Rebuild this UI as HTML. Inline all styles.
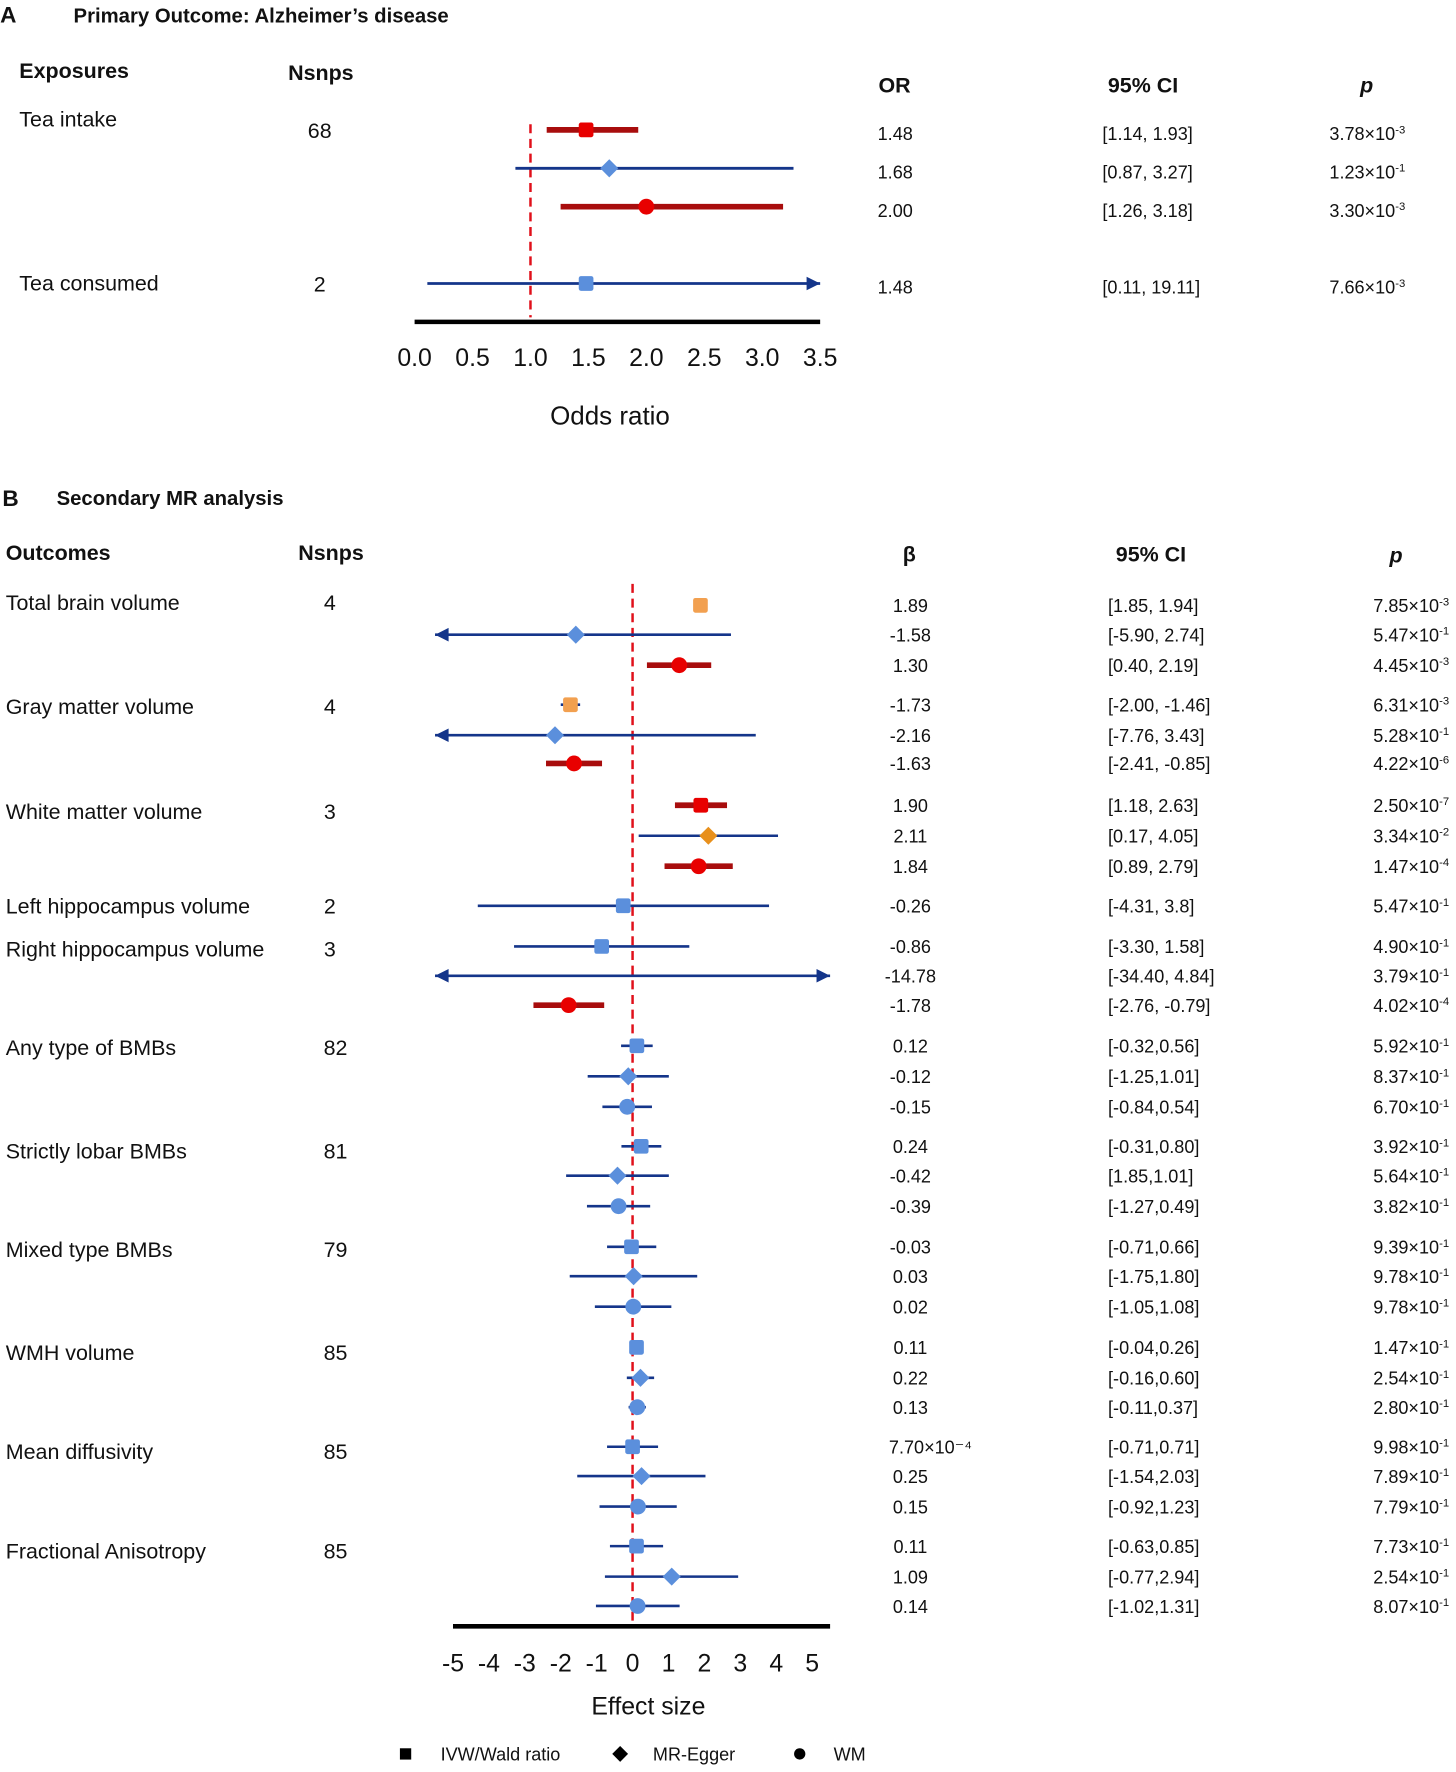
<!DOCTYPE html>
<html><head><meta charset="utf-8"><style>
html,body{margin:0;padding:0;background:#fff}
svg{display:block}
text{font-family:"Liberation Sans",Arial,sans-serif;fill:#111}
</style></head><body>
<svg id="chart" width="1456" height="1772" viewBox="0 0 1289 1569" xmlns="http://www.w3.org/2000/svg">
<g id="static">
  <text x="0" y="20" font-size="20" font-weight="bold">A</text>
  <text x="65" y="20" font-size="18" font-weight="bold">Primary Outcome: Alzheimer’s disease</text>
  <text x="17" y="69" font-size="19" font-weight="bold">Exposures</text>
  <text x="284" y="71" font-size="19" font-weight="bold" text-anchor="middle">Nsnps</text>
  <text x="792" y="82" font-size="19" font-weight="bold" text-anchor="middle">OR</text>
  <text x="1012" y="82" font-size="19" font-weight="bold" text-anchor="middle">95% CI</text>
  <text x="1210" y="82" font-size="19" font-weight="bold" font-style="italic" text-anchor="middle">p</text>
  <text x="540" y="376" font-size="23" text-anchor="middle">Odds ratio</text>

  <text x="2" y="448" font-size="20" font-weight="bold">B</text>
  <text x="50" y="447" font-size="18" font-weight="bold">Secondary MR analysis</text>
  <text x="5" y="496" font-size="19" font-weight="bold">Outcomes</text>
  <text x="293" y="496" font-size="19" font-weight="bold" text-anchor="middle">Nsnps</text>
  <text x="805" y="497" font-size="19" font-weight="bold" text-anchor="middle">β</text>
  <text x="1019" y="497" font-size="19" font-weight="bold" text-anchor="middle">95% CI</text>
  <text x="1236" y="498" font-size="19" font-weight="bold" font-style="italic" text-anchor="middle">p</text>
  <text x="574" y="1518" font-size="22" text-anchor="middle">Effect size</text>

  <g>
    <rect x="354" y="1548" width="10" height="10" fill="#000"/>
    <text x="390" y="1559" font-size="16">IVW/Wald ratio</text>
    <polygon points="549,1546 556,1553 549,1560 542,1553" fill="#000"/>
    <text x="578" y="1559" font-size="16">MR-Egger</text>
    <circle cx="708" cy="1553" r="5" fill="#000"/>
    <text x="738" y="1559" font-size="16">WM</text>
  </g>
</g>
<g id="plotA"></g>
<g id="plotB"></g>
</svg>
<script>
// ---------- Panel A data ----------
const aRowY = [115, 149, 183, 251];
const aMethod = ["s", "d", "c", "s"];
const aEst = [1.48, 1.68, 2.00, 1.48];
const aLo = [1.14, 0.87, 1.26, 0.11];
const aHi = [1.93, 3.27, 3.18, 19.11];
const aStyle = ["red", "blue", "red", "blue"];
const aEstText = ["1.48", "1.68", "2.00", "1.48"];
const aCiText = ["[1.14, 1.93]", "[0.87, 3.27]", "[1.26, 3.18]", "[0.11, 19.11]"];
const aPMant = ["3.78", "1.23", "3.30", "7.66"];
const aPExp = ["-3", "-1", "-3", "-3"];
const aLabels = [["Tea intake", 106, "68", 115], ["Tea consumed", 251, "2", 251]];
const aTicks = [0.0, 0.5, 1.0, 1.5, 2.0, 2.5, 3.0, 3.5];

// ---------- Panel B data ----------
const bRowY = [536,562,589, 624,651,676, 713,740,767, 802, 838,864,890, 926,953,980, 1015,1041,1068, 1104,1130,1157, 1193,1220,1246, 1281,1307,1334, 1369,1396,1422];
const bMethod = ["s","d","c","s","d","c","s","d","c","s","s","d","c","s","d","c","s","d","c","s","d","c","s","d","c","s","d","c","s","d","c"];
const bEst = [1.89,-1.58,1.30, -1.73,-2.16,-1.63, 1.90,2.11,1.84, -0.26, -0.86,-14.78,-1.78, 0.12,-0.12,-0.15, 0.24,-0.42,-0.39, -0.03,0.03,0.02, 0.11,0.22,0.13, 0.00077,0.25,0.15, 0.11,1.09,0.14];
const bLo = [1.85,-5.90,0.40, -2.00,-7.76,-2.41, 1.18,0.17,0.89, -4.31, -3.30,-34.40,-2.76, -0.32,-1.25,-0.84, -0.31,-1.85,-1.27, -0.71,-1.75,-1.05, -0.04,-0.16,-0.11, -0.71,-1.54,-0.92, -0.63,-0.77,-1.02];
const bHi = [1.94,2.74,2.19, -1.46,3.43,-0.85, 2.63,4.05,2.79, 3.8, 1.58,4.84,-0.79, 0.56,1.01,0.54, 0.80,1.01,0.49, 0.66,1.80,1.08, 0.26,0.60,0.37, 0.71,2.03,1.23, 0.85,2.94,1.31];
const bArrowRight = [0,0,0, 0,0,0, 0,0,0, 0, 0,1,0, 0,0,0, 0,0,0, 0,0,0, 0,0,0, 0,0,0, 0,0,0];
const bStyle = ["orange","blue","red","orange","blue","red","red","blueorange","red","blue","blue","blue","red","blue","blue","blue","blue","blue","blue","blue","blue","blue","blue","blue","blue","blue","blue","blue","blue","blue","blue"];
const bEstText = ["1.89","-1.58","1.30","-1.73","-2.16","-1.63","1.90","2.11","1.84","-0.26","-0.86","-14.78","-1.78","0.12","-0.12","-0.15","0.24","-0.42","-0.39","-0.03","0.03","0.02","0.11","0.22","0.13","7.70×10⁻⁴","0.25","0.15","0.11","1.09","0.14"];
const bCiText = ["[1.85, 1.94]","[-5.90, 2.74]","[0.40, 2.19]","[-2.00, -1.46]","[-7.76, 3.43]","[-2.41, -0.85]","[1.18, 2.63]","[0.17, 4.05]","[0.89, 2.79]","[-4.31, 3.8]","[-3.30, 1.58]","[-34.40, 4.84]","[-2.76, -0.79]","[-0.32,0.56]","[-1.25,1.01]","[-0.84,0.54]","[-0.31,0.80]","[1.85,1.01]","[-1.27,0.49]","[-0.71,0.66]","[-1.75,1.80]","[-1.05,1.08]","[-0.04,0.26]","[-0.16,0.60]","[-0.11,0.37]","[-0.71,0.71]","[-1.54,2.03]","[-0.92,1.23]","[-0.63,0.85]","[-0.77,2.94]","[-1.02,1.31]"];
const bPMant = ["7.85","5.47","4.45","6.31","5.28","4.22","2.50","3.34","1.47","5.47","4.90","3.79","4.02","5.92","8.37","6.70","3.92","5.64","3.82","9.39","9.78","9.78","1.47","2.54","2.80","9.98","7.89","7.79","7.73","2.54","8.07"];
const bPExp = ["-3","-1","-3","-3","-1","-6","-7","-2","-4","-1","-1","-1","-4","-1","-1","-1","-1","-1","-1","-1","-1","-1","-1","-1","-1","-1","-1","-1","-1","-1","-1"];
const bLabels = [["Total brain volume","4",533],["Gray matter volume","4",625],["White matter volume","3",718],["Left hippocampus volume","2",802],["Right hippocampus volume","3",840],["Any type of BMBs","82",927],["Strictly lobar BMBs","81",1019],["Mixed type BMBs","79",1106],["WMH volume","85",1197],["Mean diffusivity","85",1285],["Fractional Anisotropy","85",1373]];
const bTicks = [-5,-4,-3,-2,-1,0,1,2,3,4,5];

const NS = "http://www.w3.org/2000/svg";
function mk(parent, tag, attrs) {
  const el = document.createElementNS(NS, tag);
  for (const k in attrs) el.setAttribute(k, attrs[k]);
  parent.appendChild(el);
  return el;
}
const COL = {darkred:"#a80d0d", red:"#e80000", navy:"#14358a", lblue:"#5b8fdc", orange:"#f2a050", orange2:"#e8901c"};

function drawMarker(g, type, x, y, fill) {
  let el;
  if (type === "s") el = mk(g, "rect", {x: x - 6.5, y: y - 6.5, width: 13, height: 13, rx: 2, fill: fill});
  else if (type === "d") el = mk(g, "polygon", {points: `${x},${y-8} ${x+8},${y} ${x},${y+8} ${x-8},${y}`, fill: fill});
  else el = mk(g, "circle", {cx: x, cy: y, r: 7, fill: fill});
  
  
}
function arrow(g, x, y, dir, color) {
  const el = mk(g, "polygon", {points: `${x},${y} ${x - dir*12},${y-6} ${x - dir*12},${y+6}`, fill: color});
  
  
}
function pText(g, x, y, mant, exp, anchorEnd) {
  const t = mk(g, "text", {x: x, y: y, "font-size": 16, "text-anchor": anchorEnd ? "end" : "start"});
  
  
  const a = mk(t, "tspan", {}); a.textContent = mant + "×10";
  const b = mk(t, "tspan", {dy: -6, "font-size": 10}); b.textContent = exp;
}

// ---------- Panel A ----------
(function () {
  const g = document.getElementById("plotA");
  const x0 = 367, unit = 102.6, xmax = 3.5;
  const sx = v => x0 + v * unit;
  const dash = mk(g, "line", {x1: sx(1), y1: 110, x2: sx(1), y2: 281, stroke: "#e0101a", "stroke-width": 2.2, "stroke-dasharray": "8,5"});
  
  
  const ax = mk(g, "line", {x1: sx(0), y1: 285, x2: sx(xmax), y2: 285, stroke: "#000", "stroke-width": 4});
  
  
  aTicks.forEach(t => {
    const tx = mk(g, "text", {x: sx(t), y: 324, "font-size": 22, "text-anchor": "middle"});
    
    
    tx.textContent = t.toFixed(1);
  });
  aLabels.forEach(l => {
    const t = mk(g, "text", {x: 17, y: l[1] + 6, "font-size": 19});
    
    
    t.textContent = l[0];
    const n = mk(g, "text", {x: 283, y: l[3] + 7, "font-size": 19, "text-anchor": "middle"});
    
    
    n.textContent = l[2];
  });
  aRowY.forEach((y, i) => {
    const red = aStyle[i] === "red";
    const lc = red ? COL.darkred : COL.navy;
    const hi = Math.min(aHi[i], xmax), lo = Math.max(aLo[i], 0);
    const ln = mk(g, "line", {x1: sx(lo), y1: y, x2: sx(hi), y2: y, stroke: lc, "stroke-width": red ? 5 : 2.5});
    
    
    if (aHi[i] > xmax) arrow(g, sx(xmax), y, 1, lc);
    drawMarker(g, aMethod[i], sx(aEst[i]), y, red ? COL.red : COL.lblue);
    const e = mk(g, "text", {x: 777, y: y + 9, "font-size": 16});
    
    
    e.textContent = aEstText[i];
    const c = mk(g, "text", {x: 976, y: y + 9, "font-size": 16});
    
    
    c.textContent = aCiText[i];
    pText(g, 1177, y + 9, aPMant[i], aPExp[i], false);
  });
})();

// ---------- Panel B ----------
(function () {
  const g = document.getElementById("plotB");
  const x0 = 560, unit = 31.8, lim = 5.5;
  const sx = v => x0 + v * unit;
  const dash = mk(g, "line", {x1: sx(0), y1: 517, x2: sx(0), y2: 1438, stroke: "#e0101a", "stroke-width": 2.2, "stroke-dasharray": "8,5"});
  
  
  const ax = mk(g, "line", {x1: 401, y1: 1440, x2: sx(lim), y2: 1440, stroke: "#000", "stroke-width": 4});
  
  
  bTicks.forEach(t => {
    const tx = mk(g, "text", {x: sx(t), y: 1480, "font-size": 22, "text-anchor": "middle"});
    
    
    tx.textContent = String(t);
  });
  bLabels.forEach(l => {
    const t = mk(g, "text", {x: 5, y: l[2] + 7, "font-size": 19});
    
    
    t.textContent = l[0];
    const n = mk(g, "text", {x: l[1].length > 1 ? 297 : 292, y: l[2] + 7, "font-size": 19, "text-anchor": "middle"});
    
    
    n.textContent = l[1];
  });
  bRowY.forEach((y, i) => {
    const st = bStyle[i];
    const red = st === "red";
    const lc = red ? COL.darkred : COL.navy;
    const lo = Math.max(bLo[i], -lim);
    const hi = bArrowRight[i] ? lim : Math.min(bHi[i], lim);
    const ln = mk(g, "line", {x1: sx(lo), y1: y, x2: sx(hi), y2: y, stroke: lc, "stroke-width": red ? 5 : 2.3});
    
    
    if (bLo[i] < -lim) arrow(g, sx(-lim), y, -1, lc);
    if (bHi[i] > lim || bArrowRight[i]) arrow(g, sx(lim), y, 1, lc);
    let mc = COL.lblue;
    if (red) mc = COL.red;
    else if (st === "orange") mc = COL.orange;
    else if (st === "blueorange") mc = COL.orange2;
    if (Math.abs(bEst[i]) <= lim) drawMarker(g, bMethod[i], sx(bEst[i]), y, mc);
    const e = mk(g, "text", {x: bEstText[i].length > 6 ? 787 : 806, y: y + 6, "font-size": 16, "text-anchor": bEstText[i].length > 6 ? "start" : "middle"});
    
    
    e.textContent = bEstText[i];
    const c = mk(g, "text", {x: 981, y: y + 6, "font-size": 16});
    
    
    c.textContent = bCiText[i];
    pText(g, 1283, y + 6, bPMant[i], bPExp[i], true);
  });
})();
</script>
</body></html>
